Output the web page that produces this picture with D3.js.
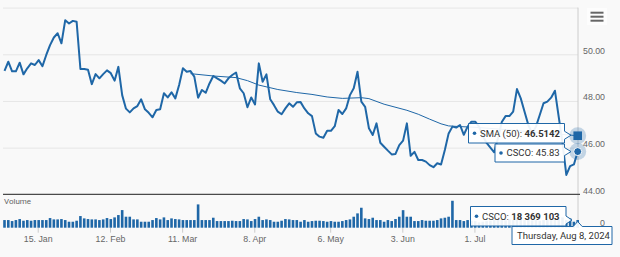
<!DOCTYPE html>
<html>
<head>
<meta charset="utf-8">
<script src="https://cdn.jsdelivr.net/npm/d3@7"></script>
<style>
    body { margin: 0; background: #f9f9f9; }
    svg { display: block; font-family: Roboto, "Liberation Sans", sans-serif; }
    .grid-line line { stroke: #e6e6e6; stroke-width: 1; }
    .axis-label text { fill: #666; font-size: 8.8px; }
    .x-axis line { stroke: #ccc; }
    .tip-text { fill: #333; font-size: 9.5px; }
</style>
</head>
<body>
<svg id="chart" width="620" height="257"></svg>
<script>
// CSCO daily close, one value per trading day (2 Jan - 8 Aug 2024)
const closes = [
    49.29, 49.68, 49.27, 49.27, 49.64, 49.14, 49.40, 49.61, 49.54, 49.75,
    49.49, 49.97, 50.39, 50.72, 50.90, 50.47, 51.46, 51.32, 51.43, 51.39,
    49.37, 49.37, 49.34, 48.72, 49.15, 48.97, 49.15, 49.31, 49.19, 48.87,
    49.46, 48.25, 47.67, 47.51, 47.68, 47.78, 48.07, 47.64, 47.49, 47.30,
    47.61, 47.64, 48.33, 48.15, 48.37, 48.11, 48.68, 49.40, 49.25, 49.28,
    49.04, 48.14, 48.47, 48.35, 48.75, 49.07, 48.97, 48.87, 48.75, 48.97,
    49.11, 49.22, 48.54, 48.33, 47.73, 48.15, 47.85, 49.61, 48.82, 49.14,
    48.07, 47.82, 47.54, 47.43, 47.68, 47.90, 47.75, 47.94, 47.95, 47.68,
    47.47, 47.35, 46.61, 46.47, 46.42, 46.72, 46.72, 46.92, 47.61, 47.44,
    47.68, 48.25, 48.54, 49.25, 47.97, 47.75, 46.83, 46.54, 47.04, 46.21,
    46.04, 45.87, 45.71, 45.73, 46.11, 46.30, 47.04, 45.65, 45.82, 45.47,
    45.47, 45.40, 45.25, 45.16, 45.33, 45.28, 45.90, 46.61, 46.90, 46.86,
    46.97, 46.55, 46.90, 47.11, 47.11, 46.90, 46.50, 46.20, 46.00, 45.80,
    46.40, 47.10, 47.35, 47.35, 47.54, 48.51, 48.11, 47.54, 46.97, 46.60,
    46.90, 47.40, 47.90, 47.97, 48.14, 48.44, 47.32, 46.20, 44.83, 45.21,
    45.28, 45.83
];

// Daily volume, millions of shares
const volumes = [
    18.3, 18.3, 15.9, 18.3, 20.7, 16.7, 18.3, 16.7, 18.3, 18.3,
    18.3, 18.3, 23.1, 19.9, 19.9, 20.7, 18.3, 14.3, 14.3, 16.7,
    27.9, 22.3, 20.7, 19.9, 19.9, 18.3, 19.9, 23.1, 20.7, 24.7,
    30.3, 42.2, 26.3, 26.3, 19.9, 19.9, 14.3, 14.3, 14.3, 18.3,
    23.1, 19.9, 24.7, 18.3, 22.3, 20.7, 19.9, 18.3, 18.3, 18.3,
    18.3, 55.8, 18.3, 18.3, 18.3, 23.9, 15.9, 15.9, 15.9, 15.9,
    16.7, 15.9, 15.9, 20.7, 19.9, 15.9, 20.7, 26.3, 18.3, 19.9,
    18.3, 14.3, 14.3, 16.7, 20.7, 19.9, 18.3, 18.3, 14.3, 18.3,
    14.3, 15.9, 16.7, 16.7, 15.9, 14.3, 15.9, 14.3, 14.3, 15.9,
    18.3, 19.9, 26.3, 34.3, 47.8, 22.3, 20.7, 23.9, 18.3, 18.3,
    14.3, 18.3, 15.9, 20.7, 26.3, 42.0, 26.3, 26.3, 15.9, 15.9,
    18.3, 16.7, 16.7, 16.7, 18.3, 22.3, 23.9, 26.3, 64.5, 18.3,
    18.3, 15.9, 18.3, 16.7, 15.9, 12.7, 14.3, 15.9, 16.7, 18.3,
    19.9, 18.3, 17.5, 19.9, 18.3, 22.3, 19.9, 18.3, 20.7, 17.5,
    18.3, 16.7, 18.3, 19.9, 18.3, 20.7, 22.3, 24.7, 18.3, 22.3,
    14.3, 18.37
];

// SMA (50) at some trading days
const smaDays = [49, 55, 61, 64, 67, 72, 77, 81, 85, 89, 94, 96, 100, 106, 109, 112, 115, 117, 120, 123, 130, 140, 151];
const smaValues = [49.17, 49.07, 49.00, 48.87, 48.68, 48.49, 48.36, 48.28, 48.17, 48.11, 48.14, 48.10, 47.86, 47.60, 47.43, 47.22, 47.02, 46.93, 46.90, 46.88, 46.80, 46.66, 46.51];

// Axis ticks
const priceGrid = [46, 48, 50, 52];
const priceTicks = [44, 46, 48, 50];
const dateTickDays = [8.75, 27.8, 46.8, 65.8, 85.8, 104.8, 123.8];
const dateTickLabels = ['15. Jan', '12. Feb', '11. Mar', '8. Apr', '6. May', '3. Jun', '1. Jul'];

// Hover texts
const hoverDate = 'Thursday, Aug 8, 2024';
const hoverSma = '46.5142';
const hoverClose = '45.83';
const hoverVolume = '18 369 103';

const blue = '#1f67a7';
const svg = d3.select('#chart');

const xScale = d3.scaleLinear().domain([0, closes.length - 1]).range([4.5, 577.7]);
const yPrice = d3.scaleLinear().domain([44, 52]).range([194.3, 7.6]);
const yVol = d3.scaleLinear().domain([0, 80]).range([227.7, 194.3]);

// Horizontal grid lines of the price pane
svg.append('g')
    .attr('class', 'grid-line')
    .attr('transform', 'translate(3,0)')
    .call(d3.axisLeft(yPrice).tickValues(priceGrid).tickSize(-575).tickFormat(''))
    .call(g => g.select('.domain').remove());

// Right axis line
svg.append('line')
    .attr('x1', 578).attr('x2', 578)
    .attr('y1', yPrice(52)).attr('y2', yVol(0))
    .attr('stroke', '#ccc');

// Price labels (right aligned, sitting just above the line)
svg.append('g')
    .attr('class', 'axis-label')
    .attr('transform', 'translate(605,0)')
    .call(d3.axisLeft(yPrice).tickValues(priceTicks).tickFormat(d3.format('.2f')).tickSize(0).tickPadding(0))
    .call(g => g.select('.domain').remove())
    .call(g => g.selectAll('text').attr('dy', -1.2).attr('font-family', null).attr('font-size', null));

// Volume label
svg.append('g')
    .attr('class', 'axis-label')
    .attr('transform', 'translate(605,0)')
    .call(d3.axisLeft(yVol).tickValues([0]).tickSize(0).tickPadding(0))
    .call(g => g.select('.domain').remove())
    .call(g => g.selectAll('text').attr('dy', -2.7).attr('font-family', null).attr('font-size', null));

svg.append('text')
    .attr('x', 4).attr('y', 204)
    .attr('fill', '#666')
    .style('font-size', '8px')
    .text('Volume');

// Date axis at the bottom
svg.append('g')
    .attr('class', 'x-axis axis-label')
    .attr('transform', `translate(0,${yVol(0)})`)
    .call(d3.axisBottom(xScale).tickValues(dateTickDays)
        .tickFormat((d, i) => dateTickLabels[i]).tickSize(5).tickPadding(3))
    .call(g => g.select('.domain').remove())
    .call(g => g.selectAll('text').attr('font-family', null).attr('font-size', null));

// Volume bars
svg.append('g')
    .selectAll('rect')
    .data(volumes)
    .enter()
    .append('rect')
    .attr('x', (d, i) => xScale(i) - 1.3)
    .attr('y', d => yVol(d))
    .attr('width', 2.6)
    .attr('height', d => yVol(0) - yVol(d))
    .attr('fill', blue);

// Pane separator
svg.append('line')
    .attr('x1', 3).attr('x2', 580)
    .attr('y1', yPrice(44)).attr('y2', yPrice(44))
    .attr('stroke', '#4a4a4a').attr('stroke-width', 1.3);

// SMA line
const smaLine = d3.line()
    .x((d, i) => xScale(smaDays[i]))
    .y(d => yPrice(d));
svg.append('path')
    .datum(smaValues)
    .attr('d', smaLine)
    .attr('fill', 'none')
    .attr('stroke', blue)
    .attr('stroke-width', 1);

// Price line
const priceLine = d3.line()
    .x((d, i) => xScale(i))
    .y(d => yPrice(d));
svg.append('path')
    .datum(closes)
    .attr('d', priceLine)
    .attr('fill', 'none')
    .attr('stroke', blue)
    .attr('stroke-width', 2)
    .attr('stroke-linejoin', 'round');

// Hover markers on the last day
const last = closes.length - 1;
const smaX = xScale(smaDays[smaDays.length - 1]);
const smaY = yPrice(smaValues[smaValues.length - 1]);
const closeX = xScale(last);
const closeY = yPrice(closes[last]);

svg.append('circle').attr('cx', smaX).attr('cy', smaY).attr('r', 8.5)
    .attr('fill', blue).attr('opacity', 0.25);
svg.append('rect').attr('x', smaX - 4.3).attr('y', smaY - 4.3)
    .attr('width', 8.6).attr('height', 8.6).attr('fill', blue);
svg.append('circle').attr('cx', closeX).attr('cy', closeY).attr('r', 8.5)
    .attr('fill', blue).attr('opacity', 0.25);
svg.append('circle').attr('cx', closeX).attr('cy', closeY).attr('r', 4)
    .attr('fill', blue).attr('stroke', '#fff').attr('stroke-width', 1);

// Callout box: arrow on the right side or on top
function calloutPath(b, tip, side) {
    const x = b.x, y = b.y, w = b.w, h = b.h;
    if (side === 'top') {
        const ax = Math.max(x + 6, Math.min(tip[0], x + w - 6));
        return `M${x},${y}H${ax - 4.5}L${tip[0]},${tip[1]}L${ax + 4.5},${y}H${x + w}V${y + h}H${x}Z`;
    }
    const ay = Math.max(y + 5, Math.min(tip[1], y + h - 5));
    return `M${x},${y}H${x + w}V${ay - 4}L${tip[0]},${tip[1]}L${x + w},${ay + 4}V${y + h}H${x}Z`;
}

// Draws one tooltip label, parts = [[text, bold], ...]
function drawTooltip(b, tip, side, parts, bullet) {
    const g = svg.append('g');
    g.append('path')
        .attr('d', calloutPath(b, tip, side))
        .attr('fill', 'rgba(255,255,255,0.92)')
        .attr('stroke', blue)
        .attr('stroke-width', 1);
    let textX = b.x + 5;
    if (bullet) {
        g.append('circle')
            .attr('cx', b.x + 6).attr('cy', b.y + b.h / 2)
            .attr('r', 1.8).attr('fill', blue);
        textX = b.x + 11.5;
    }
    const label = g.append('text')
        .attr('class', 'tip-text')
        .attr('x', textX)
        .attr('y', b.y + b.h / 2 + 3.4);
    for (let part of parts) {
        label.append('tspan')
            .attr('font-weight', part[1] ? 'bold' : null)
            .text(part[0]);
    }
}

drawTooltip({ x: 468.5, y: 123.5, w: 96, h: 19.5 }, [571, smaY - 0.5], 'right',
    [['SMA (50): ', false], [hoverSma, true]], true);
drawTooltip({ x: 495, y: 144, w: 69.5, h: 18 }, [571, closeY], 'right',
    [['CSCO: ' + hoverClose, false]], true);
drawTooltip({ x: 470.5, y: 206.5, w: 95.5, h: 19.5 }, [572, yVol(volumes[last])], 'right',
    [['CSCO: ', false], [hoverVolume, true]], true);
drawTooltip({ x: 512, y: 226.5, w: 100, h: 18 }, [closeX, 221.5], 'top',
    [[hoverDate, false]], false);

// Context menu button
svg.append('rect')
    .attr('x', 587).attr('y', 8).attr('width', 20).attr('height', 17)
    .attr('fill', '#fdfdfd');
svg.selectAll('.menu-bar')
    .data([12.7, 16.7, 20.7])
    .enter()
    .append('line')
    .attr('class', 'menu-bar')
    .attr('x1', 590.5).attr('x2', 603.5)
    .attr('y1', d => d).attr('y2', d => d)
    .attr('stroke', '#666').attr('stroke-width', 2);
</script>
</body>
</html>
